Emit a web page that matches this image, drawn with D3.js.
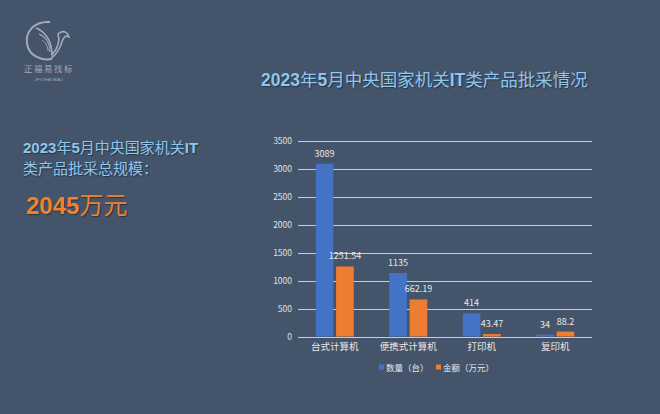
<!DOCTYPE html>
<html><head><meta charset="utf-8">
<script src="https://cdn.jsdelivr.net/npm/d3@7"></script>
<style>
html,body{margin:0;padding:0;background:#44546A;}
svg{display:block;}
.sh{text-shadow:1px 1px 1px rgba(20,30,45,0.6);}
</style></head>
<body>
<svg id="c" width="660" height="414"></svg>
<script>
const categories = ["台式计算机", "便携式计算机", "打印机", "复印机"];
const seriesNames = ["数量（台）", "金额（万元）"];
const quantity = [3089, 1135, 414, 34];
const amount = [1251.54, 662.19, 43.47, 88.2];
const quantityLabels = ["3089", "1135", "414", "34"];
const amountLabels = ["1251.54", "662.19", "43.47", "88.2"];
const yTicks = [0, 500, 1000, 1500, 2000, 2500, 3000, 3500];

const colors = ["#4472C4", "#ED7D31"];
const font = "'Microsoft YaHei','Noto Sans CJK SC','Noto Sans',sans-serif";
const svg = d3.select("#c");
svg.append("rect").attr("width", 660).attr("height", 414).attr("fill", "#44546A");

// Logo
const logo = svg.append("g").attr("fill", "none").attr("stroke", "#a3abb8");
logo.append("path").attr("d", "M50,22 C34,21 25,32 27,44 C29,55 40,61 52,59").attr("stroke-width", 2);
logo.append("path").attr("d", "M36,28 C46,32 52,42 52,55 C58,48 60,40 58,34 C62,30 67,31 69,37 L66,36 C63,37 62,42 60,47 C57,53 54,57 50,59").attr("stroke-width", 1.6);
logo.append("path").attr("d", "M39,34 C46,37 50,44 50,52").attr("stroke-width", 1.2);
logo.append("path").attr("d", "M42,40 C46,43 48,47 48,51").attr("stroke-width", 1);
svg.append("text").attr("x", 49).attr("y", 72).attr("text-anchor", "middle")
  .attr("fill", "#a3abb8").style("font-family", font).style("font-size", "8.5px")
  .style("letter-spacing", "1.5px").text("正福易找标");
svg.append("text").attr("x", 49).attr("y", 81).attr("text-anchor", "middle")
  .attr("fill", "#a3abb8").style("font-family", "Arial, sans-serif").style("font-size", "4px")
  .text("ZFYZHAOBIAO");

// Title
const title = svg.append("text").attr("class", "sh").attr("x", 261).attr("y", 86)
  .attr("fill", "#8FC6EC").style("font-family", font).style("font-size", "17.5px");
[["2023", true], ["年", false], ["5", true], ["月中央国家机关", false], ["IT", true], ["类产品批采情况", false]]
  .forEach(([t, b]) => title.append("tspan").style("font-weight", b ? "bold" : "normal")
    .style("font-family", b ? "Arial, 'Liberation Sans', sans-serif" : font).text(t));

// Left text
const l1 = svg.append("text").attr("class", "sh").attr("x", 23).attr("y", 153)
  .attr("fill", "#8FC6EC").style("font-family", font).style("font-size", "15px");
[["2023", true], ["年", false], ["5", true], ["月中央国家机关", false], ["IT", true]]
  .forEach(([t, b]) => l1.append("tspan").style("font-weight", b ? "bold" : "normal")
    .style("font-family", b ? "Arial, 'Liberation Sans', sans-serif" : font).text(t));
svg.append("text").attr("class", "sh").attr("x", 23).attr("y", 174).attr("fill", "#8FC6EC")
  .style("font-family", font).style("font-size", "15px").text("类产品批采总规模：");
const big = svg.append("text").attr("class", "sh").attr("x", 26).attr("y", 214).attr("fill", "#F0822E")
  .style("font-family", font).style("font-size", "24px");
big.append("tspan").style("font-weight", "bold").style("font-family", "Arial, 'Liberation Sans', sans-serif").text("2045");
big.append("tspan").text("万元");

// Chart
const x0 = d3.scaleBand().domain(categories).range([298, 592]);
const y = d3.scaleLinear().domain([0, 3500]).range([336.5, 140.7]);
const grid = svg.append("g");
grid.selectAll("line").data(yTicks).join("line")
  .attr("x1", 298).attr("x2", 592)
  .attr("y1", d => Math.round(y(d)) + 0.5).attr("y2", d => Math.round(y(d)) + 0.5)
  .attr("stroke", "#c9cdd3").attr("stroke-width", 1);
const yAxis = d3.axisLeft(y).tickValues(yTicks).tickFormat(d3.format("d")).tickSize(0).tickPadding(0);
const ya = svg.append("g").attr("transform", "translate(292,0)").call(yAxis);
ya.select(".domain").remove();
ya.selectAll("text").attr("fill", "#e0e0e0").style("font-family", font).style("font-size", "8.5px");

const xAxis = d3.axisBottom(x0).tickSize(0).tickPadding(0);
const xa = svg.append("g").attr("transform", "translate(0,343)").call(xAxis);
xa.select(".domain").remove();
xa.selectAll("text").attr("fill", "#e8e8e8").style("font-family", font).style("font-size", "9.5px").attr("dy", "0.71em");

const x1 = d3.scaleBand().domain([0, 1]).range([-19, 19]).paddingInner(0.13);
const series = [quantity, amount];
const labels = [quantityLabels, amountLabels];
series.forEach((vals, si) => {
  const g = svg.append("g");
  g.selectAll("rect").data(vals).join("rect")
    .attr("x", (d, i) => x0(categories[i]) + x0.bandwidth() / 2 + x1(si))
    .attr("width", x1.bandwidth())
    .attr("y", d => y(d)).attr("height", d => y(0) - y(d))
    .attr("fill", colors[si]);
  g.selectAll("text").data(vals).join("text")
    .attr("x", (d, i) => x0(categories[i]) + x0.bandwidth() / 2 + x1(si) + x1.bandwidth() / 2)
    .attr("y", d => y(d) - 7)
    .attr("text-anchor", "middle").attr("fill", "#e8e8e8")
    .style("font-family", font).style("font-size", "9px")
    .text((d, i) => labels[si][i]);
});

// Legend
const legX = [379, 436];
seriesNames.forEach((n, i) => {
  svg.append("rect").attr("x", legX[i]).attr("y", 364.5).attr("width", 5).attr("height", 5).attr("fill", colors[i]);
  svg.append("text").attr("x", legX[i] + 7).attr("y", 370.5).attr("fill", "#e8e8e8")
    .style("font-family", font).style("font-size", "8.5px").text(n);
});
</script>
</body></html>
